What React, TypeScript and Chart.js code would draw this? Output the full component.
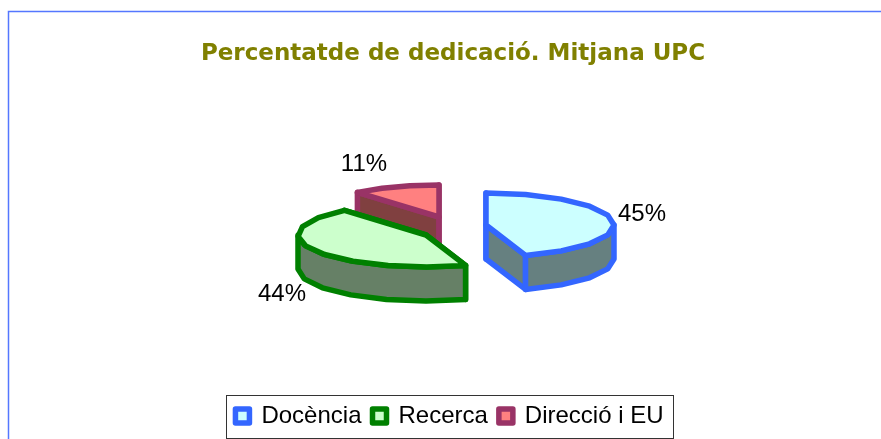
import React, { useEffect, useRef } from "react";
import { Chart, registerables } from "chart.js";

Chart.register(...registerables);

const chartTitle = "Percentatde de dedicació. Mitjana UPC";
const categories = ["Docència", "Recerca", "Direcció i EU"];
const shares = [45, 44, 11];
const strokeColors = ["#3366FF", "#008000", "#993366"];
const topColors = ["#CCFFFF", "#CCFFCC", "#FF8080"];
const wallColors = ["#668080", "#668066", "#804040"];

// Exploded 3D presentation: top-face centre of each slice and its percentage label offset.
const sliceCentres = [
  [486, 225],
  [426, 235],
  [439, 217],
];
const labelOffsets = [
  [156, -11],
  [-144, 59],
  [-75, -53],
];
const paintOrder = [2, 1, 0];
const SQUASH = 0.25;
const DEPTH = 34;
const STROKE = 5.5;
const ARC_STEP = 0.33;
const TITLE_SHIFT = 3.5;

const pie3d = {
  id: "pie3d",
  afterLayout(chart: any) {
    if (chart.titleBlock) {
      chart.titleBlock.left += TITLE_SHIFT;
      chart.titleBlock.right += TITLE_SHIFT;
    }
  },
  beforeDraw(chart: any) {
    const { ctx } = chart;
    ctx.save();
    ctx.fillStyle = "#FFFFFF";
    ctx.fillRect(0, 0, 881, 439);
    ctx.strokeStyle = "#5577FF";
    ctx.lineWidth = 1.5;
    ctx.beginPath();
    ctx.moveTo(8.5, 439);
    ctx.lineTo(8.5, 11.5);
    ctx.lineTo(881, 11.5);
    ctx.stroke();
    ctx.strokeStyle = "#333333";
    ctx.lineWidth = 1;
    ctx.strokeRect(226.5, 395.5, 447, 43);
    ctx.restore();
  },
  beforeDatasetDraw() {
    return false;
  },
  afterDatasetsDraw(chart: any) {
    const { ctx } = chart;
    const arcs = chart.getDatasetMeta(0).data;
    ctx.save();
    ctx.lineJoin = "round";
    ctx.lineCap = "round";
    ctx.lineWidth = STROKE;
    for (const i of paintOrder) {
      const arc = arcs[i];
      const [cx, cy] = sliceCentres[i];
      const rx = arc.outerRadius;
      const ry = rx * SQUASH;
      const a0 = arc.startAngle;
      const a1 = arc.endAngle;
      ctx.strokeStyle = strokeColors[i];
      // the rim is drawn as a chain of short chords, as in the reference
      const rim = (from: number, to: number, dy: number) => {
        const n = Math.max(1, Math.ceil(Math.abs(to - from) / ARC_STEP));
        for (let k = 0; k <= n; k++) {
          const a = from + ((to - from) * k) / n;
          ctx.lineTo(cx + rx * Math.cos(a), cy + dy + ry * Math.sin(a));
        }
      };
      const radial = (a: number) => {
        const px = cx + rx * Math.cos(a);
        const py = cy + ry * Math.sin(a);
        ctx.beginPath();
        ctx.moveTo(cx, cy);
        ctx.lineTo(px, py);
        ctx.lineTo(px, py + DEPTH);
        ctx.lineTo(cx, cy + DEPTH);
        ctx.closePath();
        ctx.fillStyle = wallColors[i];
        ctx.fill();
        ctx.stroke();
      };
      radial(a0);
      radial(a1);
      const f0 = Math.max(a0, 0);
      const f1 = Math.min(a1, Math.PI);
      if (f1 > f0) {
        ctx.beginPath();
        rim(f0, f1, 0);
        rim(f1, f0, DEPTH);
        ctx.closePath();
        ctx.fillStyle = wallColors[i];
        ctx.fill();
        ctx.stroke();
      }
      ctx.beginPath();
      ctx.moveTo(cx, cy);
      rim(a0, a1, 0);
      ctx.closePath();
      ctx.fillStyle = topColors[i];
      ctx.fill();
      ctx.stroke();
    }
    ctx.fillStyle = "#000000";
    ctx.font = '24px "Liberation Sans"';
    ctx.textAlign = "center";
    ctx.textBaseline = "middle";
    shares.forEach((v, i) => {
      ctx.fillText(
        `${v}%`,
        sliceCentres[i][0] + labelOffsets[i][0],
        sliceCentres[i][1] + labelOffsets[i][1]
      );
    });
    ctx.restore();
  },
};

export default function App() {
  const ref = useRef<HTMLCanvasElement>(null);
  useEffect(() => {
    const chart = new Chart(ref.current as HTMLCanvasElement, {
      type: "pie",
      data: {
        labels: categories,
        datasets: [
          {
            data: shares,
            backgroundColor: topColors,
            borderColor: strokeColors,
            borderWidth: STROKE,
          },
        ],
      },
      options: {
        responsive: false,
        animation: false,
        radius: 128,
        layout: { padding: { left: 18, right: 0, top: 24, bottom: 1 } },
        plugins: {
          tooltip: { enabled: false },
          title: {
            display: true,
            text: chartTitle,
            color: "#808000",
            font: { family: '"DejaVu Sans"', size: 23, weight: "bold" },
            padding: { top: 16, bottom: 10 },
          },
          legend: {
            position: "bottom",
            labels: {
              color: "#000000",
              font: { family: '"Liberation Sans"', size: 24 },
              boxWidth: 14,
              boxHeight: 14,
              padding: 11,
              useBorderRadius: true,
              borderRadius: 2,
              generateLabels: () =>
                categories.map((text, i) => ({
                  text,
                  fillStyle: topColors[i],
                  strokeStyle: strokeColors[i],
                  fontColor: "#000000",
                  lineWidth: 5.5,
                  lineJoin: "round",
                  index: i,
                  hidden: false,
                })),
            },
          },
        },
      } as any,
      plugins: [pie3d],
    });
    return () => chart.destroy();
  }, []);
  return (
    <div style={{ position: "fixed", left: 0, top: 0, width: 881, height: 439 }}>
      <canvas ref={ref} width={881} height={439} style={{ display: "block" }} />
    </div>
  );
}
